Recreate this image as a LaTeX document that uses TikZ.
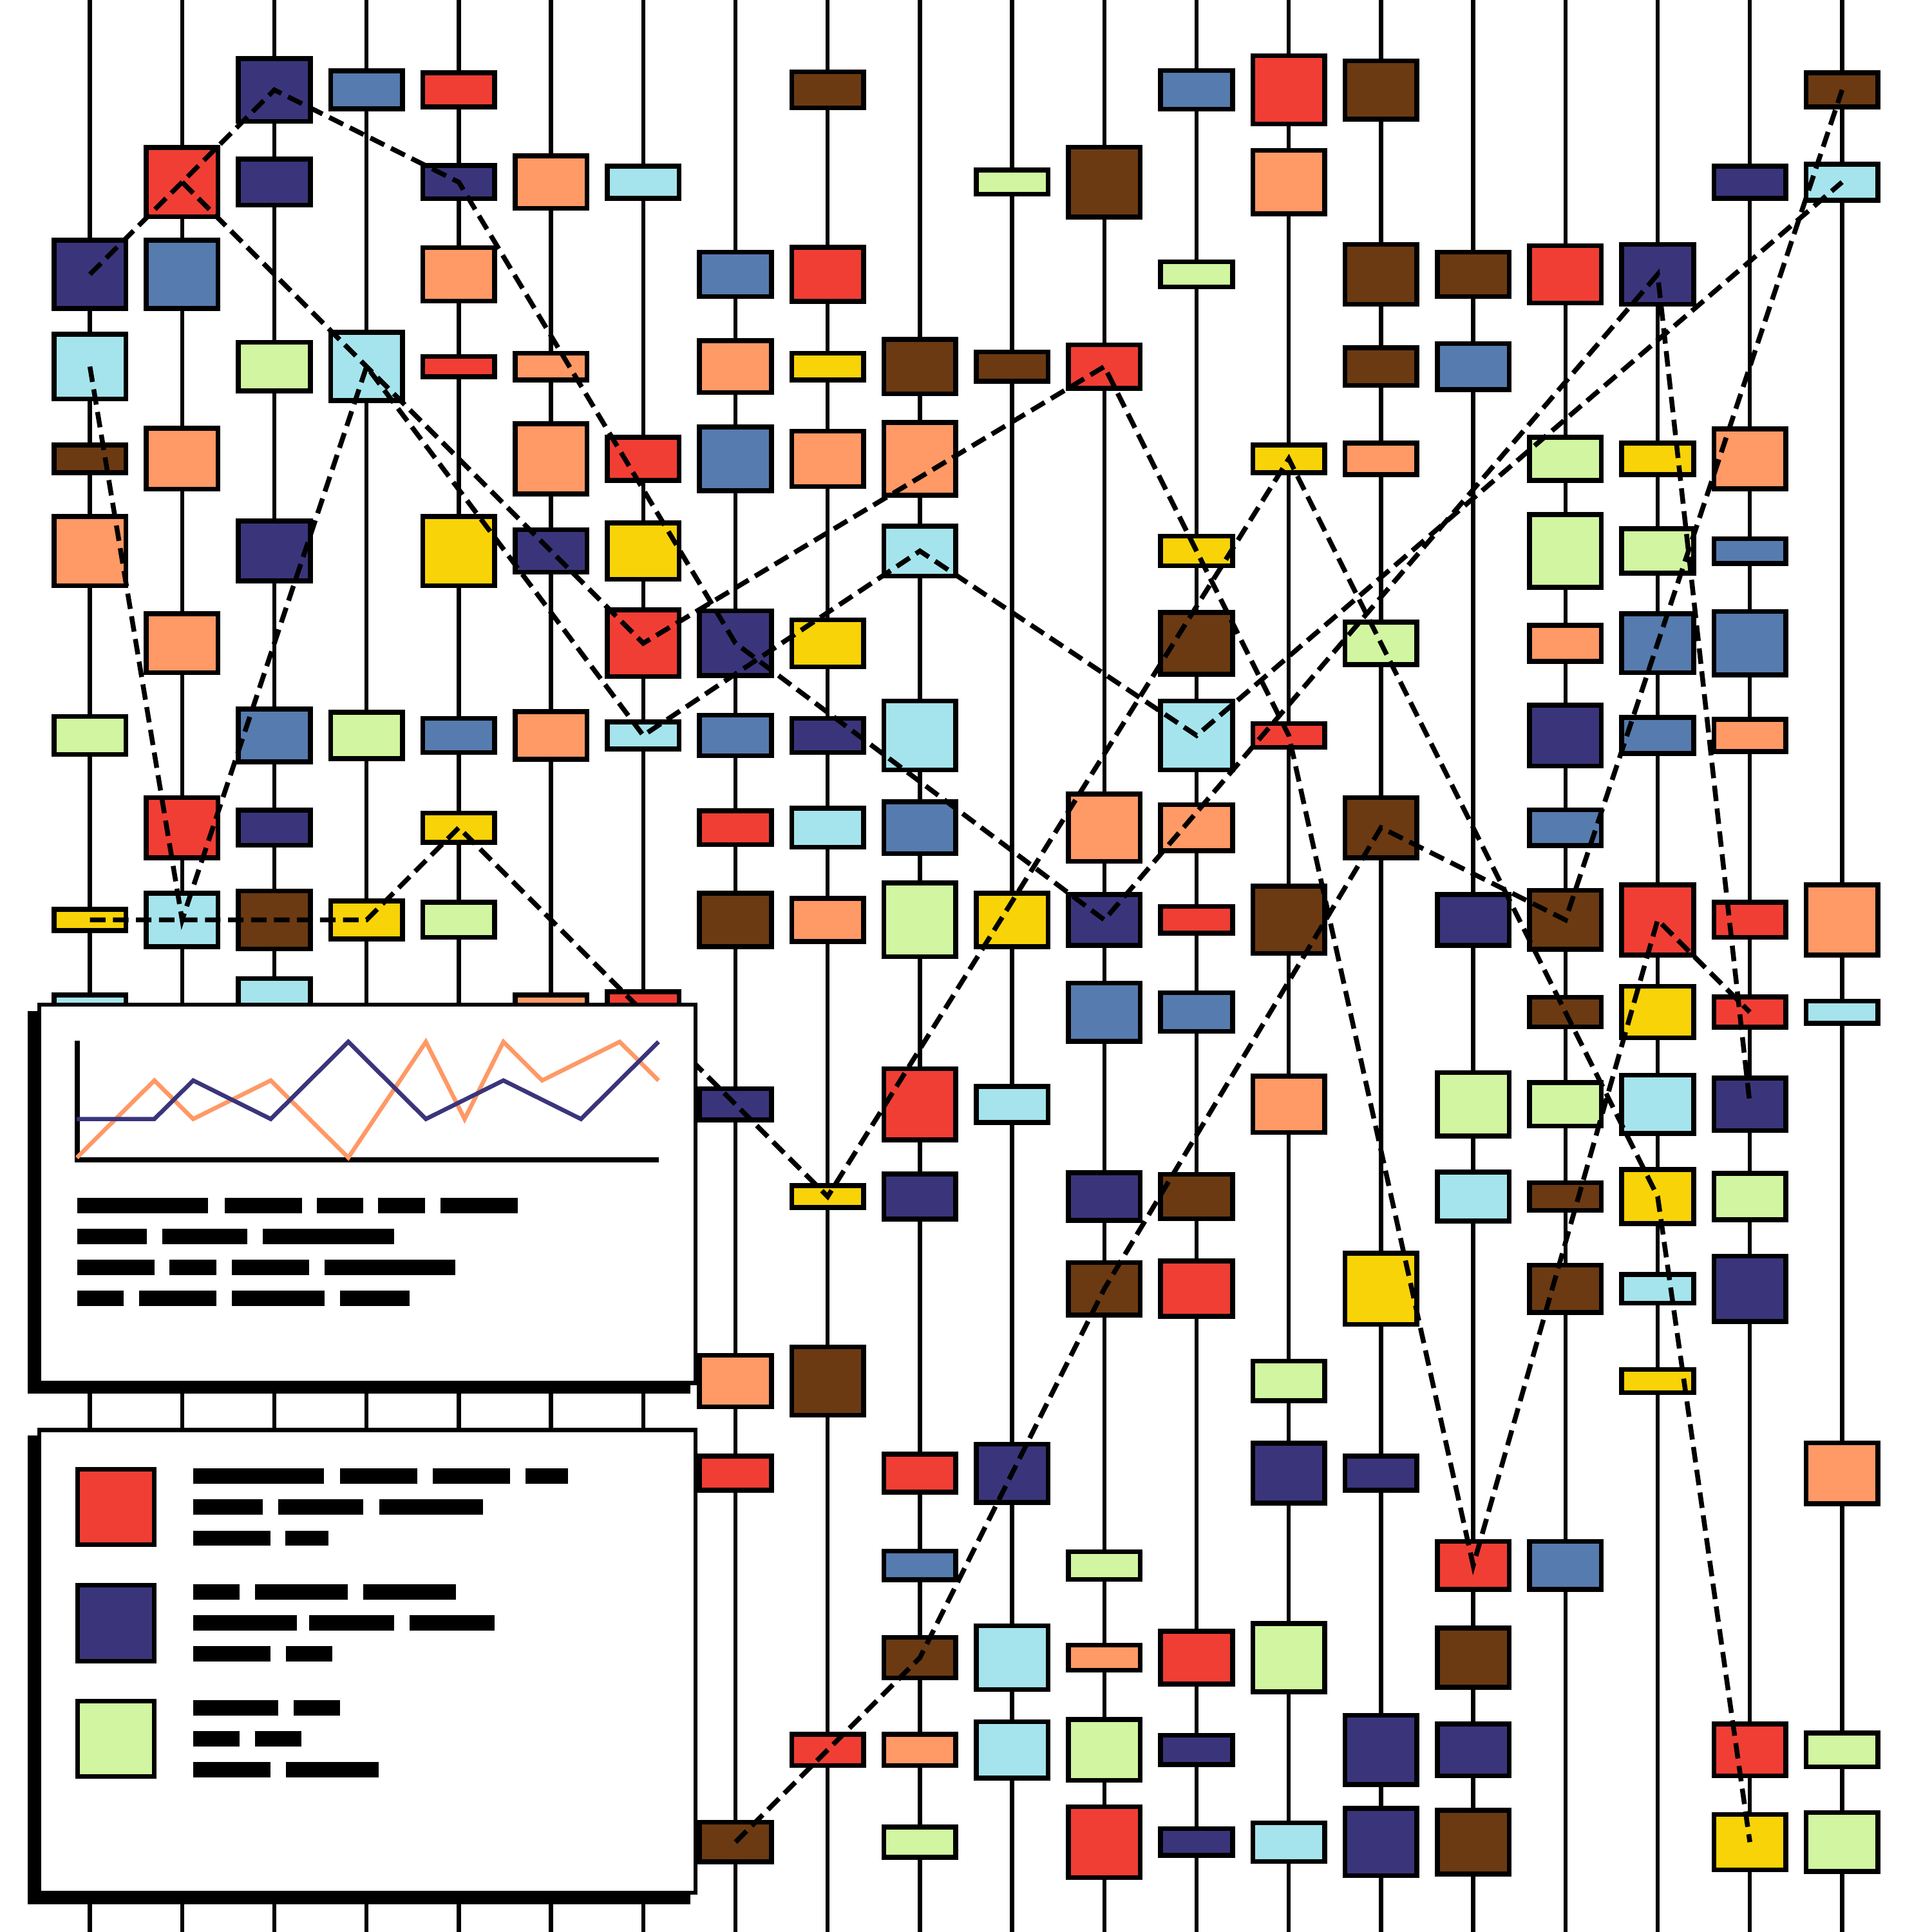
\documentclass[tikz,border=0pt]{standalone}

\definecolor{cred}{HTML}{F03E35}
\definecolor{cnavy}{HTML}{3A357B}
\definecolor{csteel}{HTML}{567BAE}
\definecolor{cpeach}{HTML}{FF9966}
\definecolor{ccyan}{HTML}{A5E4EC}
\definecolor{cgreen}{HTML}{D1F5A0}
\definecolor{cyellow}{HTML}{F8D308}
\definecolor{cbrown}{HTML}{6B3A12}

\tikzset{
  rail/.style={line width=1.3pt},
  box/.style={draw,line width=1.5pt,inner sep=0pt,minimum width=0.78cm},
  trail/.style={line width=1.5pt,dash pattern=on 4.8pt off 2.3pt},
  panel/.style={draw,fill=white,line width=1.3pt},
  key/.style={draw,line width=1.4pt,inner sep=0pt,minimum width=0.83cm,minimum height=0.82cm},
  series/.style={line width=1.3pt},
}

\begin{document}
\begin{tikzpicture}[x=1cm,y=-1cm]
  \useasboundingbox (-0.975,-0.975) rectangle (19.975,19.975);
  % rails
  \foreach \cx in {0,...,19}
    \draw[rail] (\cx,-1) -- (\cx,20);
  % boxes: column/row/colour/height
  \foreach \cx/\ry/\fc/\hh in {
    0/2/cnavy/0.74, 0/3/ccyan/0.70, 0/4/cbrown/0.30, 0/5/cpeach/0.75, 0/7/cgreen/0.41, 0/9/cyellow/0.23, 0/10/ccyan/0.37,
    1/1/cred/0.75, 1/2/csteel/0.74, 1/4/cpeach/0.66, 1/6/cpeach/0.64, 1/8/cred/0.65, 1/9/ccyan/0.58,
    2/0/cnavy/0.68, 2/1/cnavy/0.50, 2/3/cgreen/0.53, 2/5/cnavy/0.65, 2/7/csteel/0.57, 2/8/cnavy/0.38, 2/9/cbrown/0.63, 2/10/ccyan/0.73,
    3/0/csteel/0.41, 3/3/ccyan/0.74, 3/7/cgreen/0.50, 3/9/cyellow/0.41,
    4/0/cred/0.37, 4/1/cnavy/0.36, 4/2/cpeach/0.58, 4/3/cred/0.22, 4/5/cyellow/0.75, 4/7/csteel/0.37, 4/8/cyellow/0.32, 4/9/cgreen/0.38,
    5/1/cpeach/0.57, 5/3/cpeach/0.29, 5/4/cpeach/0.76, 5/5/cnavy/0.46, 5/7/cpeach/0.52, 5/10/cpeach/0.37,
    6/1/ccyan/0.35, 6/4/cred/0.47, 6/5/cyellow/0.61, 6/6/cred/0.72, 6/7/ccyan/0.29, 6/10/cred/0.44,
    7/2/csteel/0.48, 7/3/cpeach/0.56, 7/4/csteel/0.69, 7/6/cnavy/0.70, 7/7/csteel/0.44, 7/8/cred/0.37, 7/9/cbrown/0.58, 7/11/cnavy/0.34, 7/14/cpeach/0.56, 7/15/cred/0.37, 7/19/cbrown/0.43,
    8/0/cbrown/0.39, 8/2/cred/0.59, 8/3/cyellow/0.29, 8/4/cpeach/0.60, 8/6/cyellow/0.51, 8/7/cnavy/0.37, 8/8/ccyan/0.42, 8/9/cpeach/0.47, 8/12/cyellow/0.24, 8/14/cbrown/0.74, 8/18/cred/0.34,
    9/3/cbrown/0.59, 9/4/cpeach/0.79, 9/5/ccyan/0.54, 9/7/ccyan/0.75, 9/8/csteel/0.56, 9/9/cgreen/0.80, 9/11/cred/0.77, 9/12/cnavy/0.49, 9/15/cred/0.41, 9/16/csteel/0.31, 9/17/cbrown/0.44, 9/18/cpeach/0.34, 9/19/cgreen/0.33,
    10/1/cgreen/0.26, 10/3/cbrown/0.32, 10/9/cyellow/0.58, 10/11/ccyan/0.39, 10/15/cnavy/0.63, 10/17/ccyan/0.69, 10/18/ccyan/0.61,
    11/1/cbrown/0.76, 11/3/cred/0.47, 11/8/cpeach/0.73, 11/9/cnavy/0.55, 11/10/csteel/0.63, 11/12/cnavy/0.52, 11/13/cbrown/0.57, 11/16/cgreen/0.30, 11/17/cpeach/0.27, 11/18/cgreen/0.66, 11/19/cred/0.77,
    12/0/csteel/0.42, 12/2/cgreen/0.27, 12/5/cyellow/0.32, 12/6/cbrown/0.67, 12/7/ccyan/0.75, 12/8/cpeach/0.50, 12/9/cred/0.29, 12/10/csteel/0.42, 12/12/cbrown/0.48, 12/13/cred/0.60, 12/17/cred/0.57, 12/18/cnavy/0.32, 12/19/cnavy/0.29,
    13/0/cred/0.74, 13/1/cpeach/0.69, 13/4/cyellow/0.30, 13/7/cred/0.26, 13/9/cbrown/0.73, 13/11/cpeach/0.61, 13/14/cgreen/0.43, 13/15/cnavy/0.65, 13/17/cgreen/0.74, 13/19/ccyan/0.42,
    14/0/cbrown/0.63, 14/2/cbrown/0.65, 14/3/cbrown/0.41, 14/4/cpeach/0.34, 14/6/cgreen/0.46, 14/8/cbrown/0.65, 14/13/cyellow/0.77, 14/15/cnavy/0.37, 14/18/cnavy/0.75, 14/19/cnavy/0.73,
    15/2/cbrown/0.48, 15/3/csteel/0.50, 15/9/cnavy/0.55, 15/11/cgreen/0.69, 15/12/ccyan/0.53, 15/16/cred/0.52, 15/17/cbrown/0.64, 15/18/cnavy/0.56, 15/19/cbrown/0.69,
    16/2/cred/0.62, 16/4/cgreen/0.47, 16/5/cgreen/0.79, 16/6/cpeach/0.39, 16/7/cnavy/0.66, 16/8/csteel/0.39, 16/9/cbrown/0.64, 16/10/cbrown/0.32, 16/11/cgreen/0.47, 16/12/cbrown/0.30, 16/13/cbrown/0.51, 16/16/csteel/0.52,
    17/2/cnavy/0.65, 17/4/cyellow/0.34, 17/5/cgreen/0.48, 17/6/csteel/0.64, 17/7/csteel/0.39, 17/9/cred/0.76, 17/10/cyellow/0.56, 17/11/ccyan/0.63, 17/12/cyellow/0.59, 17/13/ccyan/0.31, 17/14/cyellow/0.25,
    18/1/cnavy/0.35, 18/4/cpeach/0.65, 18/5/csteel/0.27, 18/6/csteel/0.69, 18/7/cpeach/0.35, 18/9/cred/0.38, 18/10/cred/0.33, 18/11/cnavy/0.57, 18/12/cgreen/0.50, 18/13/cnavy/0.71, 18/18/cred/0.56, 18/19/cyellow/0.60,
    19/0/cbrown/0.37, 19/1/ccyan/0.39, 19/9/cpeach/0.76, 19/10/ccyan/0.24, 19/15/cpeach/0.66, 19/18/cgreen/0.37, 19/19/cgreen/0.64}
    \node[box,fill=\fc,minimum height=\hh cm] (b\cx-\ry) at (\cx,\ry) {};
  % trails through boxes of one colour
  \draw[trail] (b0-2.center) -- (b2-0.center) -- (b4-1.center) -- (b7-6.center) -- (b11-9.center) -- (b17-2.center) -- (b18-11.center);
  \draw[trail] (b1-1.center) -- (b6-6.center) -- (b11-3.center) -- (b13-7.center) -- (b15-16.center) -- (b17-9.center) -- (b18-10.center);
  \draw[trail] (b7-19.center) -- (b9-17.center) -- (b11-13.center) -- (b14-8.center) -- (b16-9.center) -- (b19-0.center);
  \draw[trail] (b0-9.center) -- (b3-9.center) -- (b4-8.center) -- (b8-12.center) -- (b13-4.center) -- (b17-12.center) -- (b18-19.center);
  \draw[trail] (b0-3.center) -- (b1-9.center) -- (b3-3.center) -- (b6-7.center) -- (b9-5.center) -- (b12-7.center) -- (b19-1.center);

  % chart panel
  \fill (-0.675,9.99) rectangle (6.51,14.14);
  \draw[panel] (-0.55,9.92) rectangle (6.567,14.02);
  \draw[line width=1.6pt] (-0.138,10.31) -- (-0.138,11.60) -- (6.17,11.60);
  \draw[series,cpeach] (-0.142,11.578) -- (0.699,10.741) -- (1.120,11.159) -- (1.961,10.741) -- (2.802,11.578) -- (3.643,10.322)
    -- (4.063,11.159) -- (4.484,10.322) -- (4.904,10.741) -- (5.745,10.322) -- (6.166,10.741);
  \draw[series,cnavy] (-0.142,11.159) -- (0.699,11.159) -- (1.120,10.741) -- (1.961,11.159) -- (2.802,10.322) -- (3.643,11.159)
    -- (4.484,10.741) -- (5.325,11.159) -- (6.166,10.322);
  \foreach \a/\b in {-0.138/1.283, 1.461/2.299, 2.459/2.963, 3.127/3.635, 3.800/4.637}
    \fill (\a,12.012) rectangle (\b,12.178);
  \foreach \a/\b in {-0.138/0.620, 0.784/1.707, 1.876/3.297}
    \fill (\a,12.350) rectangle (\b,12.516);
  \foreach \a/\b in {-0.138/0.700, 0.865/1.372, 1.537/2.379, 2.544/3.965}
    \fill (\a,12.687) rectangle (\b,12.853);
  \foreach \a/\b in {-0.138/0.367, 0.534/1.372, 1.538/2.543, 2.714/3.469}
    \fill (\a,13.021) rectangle (\b,13.187);

  % legend panel
  \fill (-0.675,14.59) rectangle (6.51,19.675);
  \draw[panel] (-0.55,14.531) rectangle (6.567,19.55);
  \node[key,fill=cred] (keyred) at (0.282,15.366) {};
  \node[key,fill=cnavy] (keynavy) at (0.282,16.625) {};
  \node[key,fill=cgreen] (keygreen) at (0.282,17.878) {};
  \foreach \a/\b/\y in {1.122/2.538/15.03, 2.714/3.552/15.03, 3.719/4.557/15.03, 4.723/5.184/15.03,
                        1.122/1.877/15.366, 2.043/2.964/15.366, 3.136/4.263/15.366,
                        1.122/1.960/15.704, 2.122/2.587/15.704,
                        1.122/1.622/16.286, 1.788/2.798/16.286, 2.964/3.969/16.286,
                        1.122/2.244/16.624, 2.376/3.297/16.624, 3.469/4.390/16.624,
                        1.122/1.960/16.958, 2.126/2.631/16.958,
                        1.122/2.043/17.546, 2.210/2.714/17.546,
                        1.122/1.622/17.880, 1.788/2.293/17.880,
                        1.122/1.960/18.214, 2.126/3.131/18.214}
    \fill (\a,\y-0.083) rectangle (\b,\y+0.083);
\end{tikzpicture}
\end{document}
